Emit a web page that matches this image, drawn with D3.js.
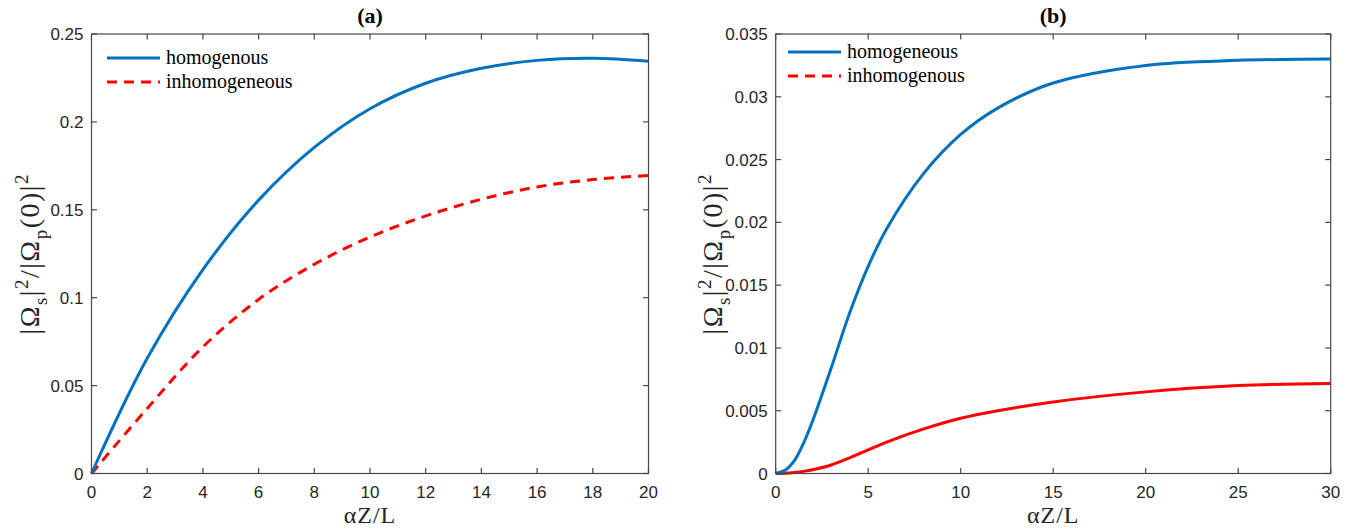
<!DOCTYPE html>
<html>
<head>
<meta charset="utf-8">
<script src="https://cdn.jsdelivr.net/npm/d3@7"></script>
<style>
  body { margin: 0; background: #fff; }
  svg.vis { display: block; }
</style>
</head>
<body>
<svg class="vis" width="1361" height="528"></svg>
<script>

// panel (a)
const xA = [0, 2, 4, 6, 8, 10, 12, 14, 16, 18, 20];
const homA = [0, 0.0655, 0.116, 0.1555, 0.1855, 0.2075, 0.222, 0.2305, 0.235, 0.2362, 0.2345];
const inhA = [0, 0.037, 0.072, 0.099, 0.119, 0.1345, 0.1465, 0.156, 0.163, 0.1672, 0.1695];
const ticksXA = [0, 2, 4, 6, 8, 10, 12, 14, 16, 18, 20];
const ticksYA = [0, 0.05, 0.1, 0.15, 0.2, 0.25];
const legendA = ["homogenous", "inhomogeneous"];

// panel (b)
const xB = [0, 0.5, 1, 1.5, 2, 3, 4, 5, 6, 8, 10, 12, 15, 20, 25, 30];
const homB = [0, 0.00025, 0.001, 0.0024, 0.0042, 0.0084, 0.0128, 0.0165, 0.0195, 0.0239, 0.0270,
              0.0291, 0.0311, 0.0325, 0.0329, 0.0330];
const inhB = [0, 0.00002, 0.00008, 0.00017, 0.0003, 0.00068, 0.00125, 0.00188, 0.0025, 0.00355,
              0.0044, 0.0050, 0.0057, 0.0065, 0.0070, 0.00717];
const ticksXB = [0, 5, 10, 15, 20, 25, 30];
const ticksYB = [0, 0.005, 0.01, 0.015, 0.02, 0.025, 0.03, 0.035];
const legendB = ["homogeneous", "inhomogenous"];

const vis = {

    svg: d3.select("svg.vis"),

    colors: { blue: "#0072BD", red: "#FF0000", axis: "#474747", text: "#262626" },

    fonts: {
        sans: "Liberation Sans, Arial, sans-serif",
        serif: "Liberation Serif, Times New Roman, serif"
    },

    panels: [
        { title: "(a)", left: 91.5, right: 648.5, xMax: 20, yMax: 0.25,
          x: xA, s1: homA, s2: inhA, tx: ticksXA, ty: ticksYA, legend: legendA,
          redDashed: true, labelX: 39, legX: 107, legY: 58 },
        { title: "(b)", left: 775.7, right: 1330.7, xMax: 30, yMax: 0.035,
          x: xB, s1: homB, s2: inhB, tx: ticksXB, ty: ticksYB, legend: legendB,
          redDashed: false, labelX: 722, legX: 788, legY: 52 }
    ],

    dims: { top: 34, bottom: 473.5, tick: 5.5 },

    init: function() {
        vis.panels.forEach(p => vis.draw(p));
    },

    draw: function(p) {

        const svg = vis.svg;
        const top = vis.dims.top, bottom = vis.dims.bottom, tk = vis.dims.tick;

        const x = d3.scaleLinear().domain([0, p.xMax]).range([p.left, p.right]);
        const y = d3.scaleLinear().domain([0, p.yMax]).range([bottom, top]);

        const g = svg.append("g");

        // curves
        const line = (ys) => d3.line()
            .x((d, i) => x(p.x[i]))
            .y((d, i) => y(ys[i]))
            .curve(d3.curveCatmullRom.alpha(0.5))(ys);

        g.append("path")
          .attr("d", line(p.s2))
          .attr("fill", "none")
          .attr("stroke", vis.colors.red)
          .attr("stroke-width", 3)
          .attr("stroke-dasharray", p.redDashed ? "10,7" : null);

        g.append("path")
          .attr("d", line(p.s1))
          .attr("fill", "none")
          .attr("stroke", vis.colors.blue)
          .attr("stroke-width", 3);

        // box with inward ticks on all sides
        const ax = g.append("g").attr("stroke", vis.colors.axis).attr("stroke-width", 1.2);

        ax.append("rect")
          .attr("x", p.left).attr("y", top)
          .attr("width", p.right - p.left).attr("height", bottom - top)
          .attr("fill", "none");

        p.tx.forEach(t => {
            ax.append("line").attr("x1", x(t)).attr("x2", x(t)).attr("y1", bottom).attr("y2", bottom - tk);
            ax.append("line").attr("x1", x(t)).attr("x2", x(t)).attr("y1", top).attr("y2", top + tk);
        });
        p.ty.forEach(t => {
            ax.append("line").attr("x1", p.left).attr("x2", p.left + tk).attr("y1", y(t)).attr("y2", y(t));
            ax.append("line").attr("x1", p.right).attr("x2", p.right - tk).attr("y1", y(t)).attr("y2", y(t));
        });

        // tick labels
        g.selectAll("text.tx")
          .data(p.tx)
          .join("text")
          .attr("class", "tx")
          .attr("x", d => x(d))
          .attr("y", bottom + 24)
          .attr("text-anchor", "middle")
          .attr("font-family", vis.fonts.sans)
          .attr("font-size", 17)
          .attr("fill", vis.colors.text)
          .text(d => d);

        g.selectAll("text.ty")
          .data(p.ty)
          .join("text")
          .attr("class", "ty")
          .attr("x", p.left - 8)
          .attr("y", d => y(d) + 6)
          .attr("text-anchor", "end")
          .attr("font-family", vis.fonts.sans)
          .attr("font-size", 17)
          .attr("fill", vis.colors.text)
          .text(d => d);

        // title
        g.append("text")
          .attr("x", (p.left + p.right) / 2)
          .attr("y", 23)
          .attr("text-anchor", "middle")
          .attr("font-family", vis.fonts.serif)
          .attr("font-weight", "bold")
          .attr("font-size", 22)
          .text(p.title);

        // x label
        g.append("text")
          .attr("x", (p.left + p.right) / 2)
          .attr("y", 523)
          .attr("text-anchor", "middle")
          .attr("font-family", vis.fonts.serif)
          .attr("font-size", 24)
          .attr("letter-spacing", 1)
          .attr("fill", vis.colors.text)
          .text("αZ/L");

        // y label  |Ω_s|^2 / |Ω_p(0)|^2
        const yl = g.append("text")
          .attr("transform", `translate(${p.labelX},${(top + bottom) / 2}) rotate(-90)`)
          .attr("text-anchor", "middle")
          .attr("font-family", vis.fonts.serif)
          .attr("font-size", 28)
          .attr("letter-spacing", 1.5)
          .attr("fill", vis.colors.text);

        const parts = [
            ["|Ω", 0, 28], ["s", 8, 19], ["|", -8, 28], ["2", -11, 19], ["/|Ω", 11, 28],
            ["p", 8, 19], ["(0)|", -8, 28], ["2", -11, 19]
        ];
        parts.forEach(d => {
            yl.append("tspan").attr("dy", d[1]).attr("font-size", d[2]).text(d[0]);
        });

        // legend
        const lg = g.append("g");
        p.legend.forEach((name, i) => {
            const ly = p.legY + i * 24;
            lg.append("line")
              .attr("x1", p.legX).attr("x2", p.legX + 53)
              .attr("y1", ly).attr("y2", ly)
              .attr("stroke", i === 0 ? vis.colors.blue : vis.colors.red)
              .attr("stroke-width", 3)
              .attr("stroke-dasharray", i === 0 ? null : "10,7");
            lg.append("text")
              .attr("x", p.legX + 59)
              .attr("y", ly + 6)
              .attr("font-family", vis.fonts.serif)
              .attr("font-size", 20)
              .attr("fill", "#000")
              .text(name);
        });
    }
};

vis.init();
</script>
</body>
</html>
